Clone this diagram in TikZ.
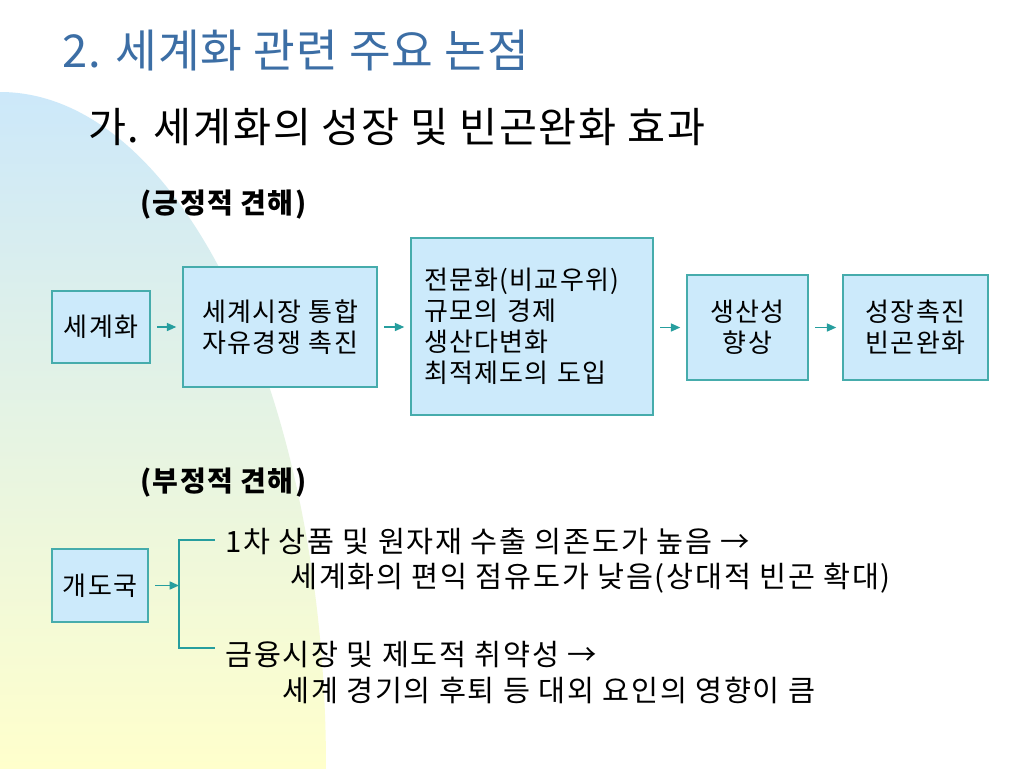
\documentclass[tikz,border=0pt]{standalone}
\usepackage{fontspec}
\setmainfont{Noto Sans CJK KR}
\usetikzlibrary{arrows.meta}
\definecolor{bgblue}{RGB}{204,232,250}
\definecolor{bgmid}{RGB}{228,243,226}
\definecolor{bgyellow}{RGB}{255,255,204}
\definecolor{boxfill}{RGB}{204,234,251}
\definecolor{boxline}{RGB}{70,172,172}
\definecolor{arrcol}{RGB}{38,158,158}
\definecolor{titleblue}{RGB}{60,110,165}
\tikzset{
  boxnode/.style={draw=boxline, fill=boxfill, line width=1.1pt, inner sep=0pt, align=center,
    font=\fontsize{19.5pt}{23pt}\selectfont\addfontfeature{LetterSpace=5}},
  arr/.style={draw=arrcol, line width=1.1pt, -{Triangle[length=7pt,width=6pt]}, shorten <=5pt, shorten >=4.5pt},
  brk/.style={draw=arrcol, line width=0.9pt},
  plain/.style={inner sep=0pt, anchor=west},
  bodytext/.style={plain, font=\fontsize{22pt}{26pt}\selectfont\addfontfeature{LetterSpace=6}},
  headtext/.style={plain, font=\fontsize{21pt}{26pt}\selectfont\bfseries\addfontfeature{LetterSpace=5}}
}
\begin{document}
\begin{tikzpicture}[x=0.75pt, y=-0.75pt]
\fill[white] (0,0) rectangle (1024,768);
\useasboundingbox (0,0) rectangle (1024,768);
% background shape
\begin{scope}
  \clip (0,768) ellipse [x radius=326, y radius=676];
  \shade[top color=bgblue, middle color=bgmid, bottom color=bgyellow] (0,90) rectangle (330,768);
\end{scope}
% titles
\node[plain, text=titleblue, font=\fontsize{34pt}{38pt}\selectfont\addfontfeature{LetterSpace=2}] (title) at (62,51) {2. 세계화 관련 주요 논점};
\node[plain, font=\fontsize{31pt}{35pt}\selectfont\addfontfeature{LetterSpace=4}] (sub) at (88,127) {가. 세계화의 성장 및 빈곤완화 효과};
\node[headtext] (pos) at (140,205) {(긍정적 견해)};
\node[headtext] (neg) at (140,483) {(부정적 견해)};
% positive chain
\node[boxnode, minimum width=73.5pt, minimum height=54pt] (g) at (101,327) {세계화};
\node[boxnode, minimum width=145.5pt, minimum height=90pt] (m) at (280,327) {세계시장 통합\\자유경쟁 촉진};
\node[boxnode, minimum width=181.5pt, minimum height=132.75pt, align=left, text width=162pt, font=\fontsize{19.5pt}{23.3pt}\selectfont\addfontfeature{LetterSpace=5}] (s) at (532,326.5) {전문화(비교우위)\\규모의 경제\\생산다변화\\최적제도의 도입};
\node[boxnode, minimum width=90.75pt, minimum height=78.75pt] (p) at (747.5,327.5) {생산성\\향상};
\node[boxnode, minimum width=108.75pt, minimum height=78.75pt] (c) at (915.5,327.5) {성장촉진\\빈곤완화};
\draw[arr] (g.east) -- (g.east -| m.west);
\draw[arr] (m.east) -- (m.east -| s.west);
\draw[arr] (s.east |- p.west) -- (p.west);
\draw[arr] (p.east) -- (c.west);
% negative
\node[boxnode, minimum width=72pt, minimum height=54.75pt] (d) at (100,585.5) {개도국};
\coordinate (bm) at (179,585.5);
\coordinate (bt) at (179,540);
\coordinate (bb) at (179,648);
\coordinate (t1) at (215,540);
\coordinate (t2) at (215,648);
\draw[arr, shorten >=0pt] (d.east) -- (bm);
\draw[brk] (t1) -- (bt) -- (bb) -- (t2);
\node[bodytext] (l1) at (225,541) {1차 상품 및 원자재 수출 의존도가 높음 →};
\node[bodytext] (l2) at (290,578) {세계화의 편익 점유도가 낮음(상대적 빈곤 확대)};
\node[bodytext] (l3) at (225,655) {금융시장 및 제도적 취약성 →};
\node[bodytext] (l4) at (282,690) {세계 경기의 후퇴 등 대외 요인의 영향이 큼};
\end{tikzpicture}
\end{document}
